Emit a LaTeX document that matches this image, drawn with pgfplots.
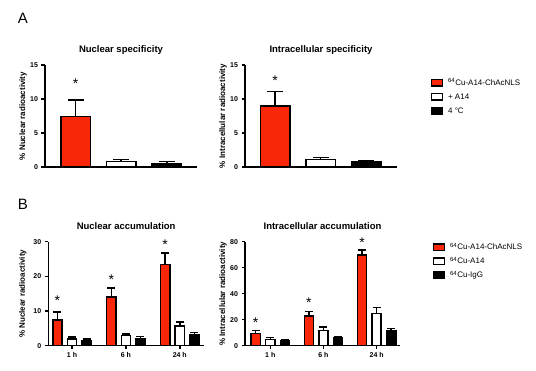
\documentclass[border=0pt]{standalone}
\usepackage{pgfplots}
\pgfplotsset{compat=1.18}
\usepackage{fontspec}
\setmainfont{Liberation Sans}
\definecolor{gpred}{RGB}{250,38,8}
\tikzset{gpstar/.style={font=\fontsize{14}{15}\selectfont, anchor=base, yshift=-8pt, inner sep=0pt}}
\pgfplotsset{
  gp/.style={
    scale only axis,
    axis x line*=bottom, axis y line*=left,
    axis line style={line width=1.5pt, black},
    every tick/.style={black, line width=1.5pt},
    major tick length=3.5pt,
    tick align=outside,
    ymin=0,
    ybar, bar shift=0pt,
    tick label style={font=\bfseries\fontsize{7}{8}\selectfont},
    /pgf/number format/assume math mode=true,
    ylabel style={font=\bfseries\fontsize{8}{9}\selectfont},
    title style={font=\bfseries\fontsize{9.5}{11}\selectfont, at={(axis description cs:0.5,1)}, anchor=base, yshift=6.5pt},
    legend style={draw=none, fill=none, font=\fontsize{8}{9}\selectfont, anchor=north west, row sep=5pt, column sep=4pt, nodes={inner sep=1pt, text height=6pt, text depth=1pt}},
    legend cell align=left,
    clip=false,
    error bars/y dir=plus, error bars/y explicit,
    error bars/error bar style={line width=1.5pt, black},
  },
  legbox/.style={legend image code/.code={\draw[##1, line width=1.5pt] (0pt,-3.3pt) rectangle (11pt,3.3pt);}},
  pr/.style={fill=gpred, draw=black, line width=1.5pt, legbox},
  pw/.style={fill=white, draw=black, line width=1.5pt, legbox},
  pk/.style={fill=black, draw=black, line width=1.5pt, legbox},
}
\begin{document}
\begin{tikzpicture}
\useasboundingbox (0pt,0pt) rectangle (536pt,371pt);
\node[font=\fontsize{15}{16}\selectfont] at (23pt,352.3pt) {A};
\node[font=\fontsize{15}{16}\selectfont] at (23pt,167pt) {B};

% A left
\begin{axis}[gp, at={(45pt,204pt)}, anchor=south west, width=152pt, height=102pt,
  xmin=0.33, xmax=3.66, ymax=15, ytick={0,5,10,15}, xtick=\empty, bar width=29.5pt,
  title={Nuclear specificity}, ylabel={\% Nuclear radioactivity}, ylabel shift=-3.5pt,
  error bars/error mark options={rotate=90, mark size=8pt, line width=1.5pt, black}]
\addplot[pr] coordinates {(1,7.46) +- (0,2.39)};
\addplot[pw] coordinates {(2,0.84) +- (0,0.26)};
\addplot[pk] coordinates {(3,0.54) +- (0,0.24)};
\node[gpstar] at (axis cs:1,12.65) {*};
\end{axis}

% A right
\begin{axis}[gp, at={(245pt,204pt)}, anchor=south west, width=152pt, height=102pt,
  xmin=0.34, xmax=3.68, ymax=15, ytick={0,5,10,15}, xtick=\empty, bar width=29.5pt,
  title={Intracellular specificity}, ylabel={\% Intracellular radioactivity}, ylabel shift=-3.5pt,
  error bars/error mark options={rotate=90, mark size=8pt, line width=1.5pt, black},
  legend style={at={(1.20,0.89)}}]
\addplot[pr] coordinates {(1,9.0) +- (0,2.07)};
\addplot[pw] coordinates {(2,1.13) +- (0,0.27)};
\addplot[pk] coordinates {(3,0.7) +- (0,0.23)};
\node[gpstar] at (axis cs:1,13.1) {*};
\legend{\textsuperscript{64}Cu-A14-ChAcNLS, + A14, 4 °C}
\end{axis}

% B left
\begin{axis}[gp, at={(48.3pt,25.3pt)}, anchor=south west, width=155.7pt, height=104pt,
  xmin=-0.44, xmax=2.45, ymax=30, ytick={0,10,20,30}, xtick={0,1,2},
  xticklabels={1 h,6 h,24 h}, bar width=9.2pt,
  title={Nuclear accumulation}, ylabel={\% Nuclear radioactivity},
  error bars/error mark options={rotate=90, mark size=4pt, line width=1.5pt, black}]
\addplot[pr, bar shift=-14.6pt] coordinates {(0,7.4) +- (0,2.3) (1,14.1) +- (0,2.6) (2,23.4) +- (0,3.4)};
\addplot[pw, bar shift=0pt] coordinates {(0,2.0) +- (0,0.5) (1,3.0) +- (0,0.4) (2,5.7) +- (0,1.1)};
\addplot[pk, bar shift=14.6pt] coordinates {(0,1.55) +- (0,0.35) (1,2.1) +- (0,0.6) (2,3.2) +- (0,0.55)};
\node[gpstar, xshift=-14.6pt] at (axis cs:0,13.8) {*};
\node[gpstar, xshift=-14.6pt] at (axis cs:1,19.9) {*};
\node[gpstar, xshift=-14.6pt] at (axis cs:2,30.2) {*};
\end{axis}

% B right
\begin{axis}[gp, at={(245pt,25.3pt)}, anchor=south west, width=155pt, height=104pt,
  xmin=-0.476, xmax=2.44, ymax=80, ytick={0,20,40,60,80}, xtick={0,1,2},
  xticklabels={1 h,6 h,24 h}, bar width=9.2pt,
  title={Intracellular accumulation}, ylabel={\% Intracellular radioactivity}, ylabel shift=-3.5pt,
  error bars/error mark options={rotate=90, mark size=4pt, line width=1.5pt, black},
  legend style={at={(1.19,1.01)}}]
\addplot[pr, bar shift=-14.6pt] coordinates {(0,9.5) +- (0,2.0) (1,22.8) +- (0,3.4) (2,69.8) +- (0,3.8)};
\addplot[pw, bar shift=0pt] coordinates {(0,4.9) +- (0,1.3) (1,11.5) +- (0,2.7) (2,24.9) +- (0,4.3)};
\addplot[pk, bar shift=14.6pt] coordinates {(0,3.5) +- (0,0.8) (1,5.9) +- (0,1.0) (2,11.3) +- (0,2.1)};
\node[gpstar, xshift=-14.6pt] at (axis cs:0,19.8) {*};
\node[gpstar, xshift=-14.6pt] at (axis cs:1,35.2) {*};
\node[gpstar, xshift=-14.6pt] at (axis cs:2,82) {*};
\legend{\textsuperscript{64}Cu-A14-ChAcNLS, \textsuperscript{64}Cu-A14, \textsuperscript{64}Cu-IgG}
\end{axis}
\end{tikzpicture}
\end{document}
